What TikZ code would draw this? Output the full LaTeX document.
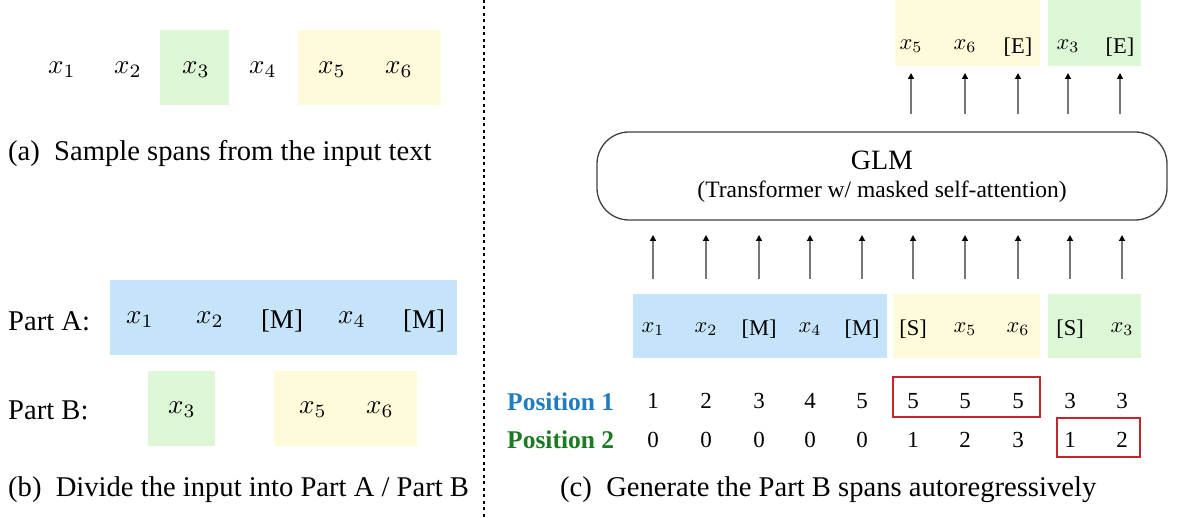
\documentclass[tikz,border=0pt]{standalone}
\usepackage{fontspec}
\setmainfont{Liberation Serif}
\usetikzlibrary{arrows.meta}
\definecolor{ablue}{HTML}{C6E4F9}
\definecolor{agreen}{HTML}{DDF7D6}
\definecolor{ayellow}{HTML}{FDFBDA}
\definecolor{pblue}{HTML}{1E7CC0}
\definecolor{pgreen}{HTML}{1B7A22}
\definecolor{rbox}{HTML}{C4262B}
\definecolor{shaft}{HTML}{777777}
\begin{document}
\begin{tikzpicture}[x=1pt,y=-1pt,
  captxt/.style={font=\fontsize{28.6}{32}\selectfont, anchor=west, inner sep=0pt},
  ltok/.style={font=\fontsize{10}{12}\selectfont, scale=2.7, inner sep=0pt},
  rtok/.style={font=\fontsize{10}{12}\selectfont, scale=2.25, inner sep=0pt},
  num/.style={font=\fontsize{23}{26}\selectfont, inner sep=0pt},
  arr/.style={draw=shaft, line width=1.4pt, -{Triangle[length=6pt,width=6pt,black]}},
  redbox/.style={draw=rbox, line width=1.3pt},
]
\useasboundingbox (0,0) rectangle (1177,518);

% ---------- (a) ----------
\fill[agreen] (160,30) rectangle (229,105);
\fill[ayellow] (298,30) rectangle (441,105);
\foreach \n/\x in {1/62,2/128,3/196,4/263,5/332,6/399}
  \node[ltok] (a\n) at (\x,70) {$x_{\n}$};
\node[captxt] (capa) at (8,153) {(a)~~Sample spans from the input text};

% ---------- (b) ----------
\fill[ablue] (110,280) rectangle (457,355);
\fill[agreen] (148,371) rectangle (215,446);
\fill[ayellow] (274,371) rectangle (417,446);
\node[captxt] (parta) at (8,321) {Part A:};
\node[captxt] (partb) at (8,410) {Part B:};
\node[ltok] (pa1) at (140,320) {$x_1$};
\node[ltok] (pa2) at (210,320) {$x_2$};
\node[ltok] (pa3) at (282,321) {[M]};
\node[ltok] (pa4) at (352,320) {$x_4$};
\node[ltok] (pa5) at (424,321) {[M]};
\node[ltok] (pb3) at (182,410) {$x_3$};
\node[ltok] (pb5) at (313,410) {$x_5$};
\node[ltok] (pb6) at (380,410) {$x_6$};
\node[captxt] (capb) at (8,490) {(b)~~Divide the input into Part A / Part B};

% ---------- divider ----------
\coordinate (dtop) at (484,0);
\coordinate (dbot) at (484,518);
\draw[line width=2pt, dash pattern=on 3pt off 3.5pt] (dtop) -- (dbot);

% ---------- (c) ----------
\fill[ayellow] (895,0) rectangle (1040,66);
\fill[agreen] (1048,0) rectangle (1141,66);
\node[rtok] (o1) at (911,46) {$x_5$};
\node[rtok] (o2) at (965,46) {$x_6$};
\node[rtok] (o3) at (1018,47) {[E]};
\node[rtok] (o4) at (1068,46) {$x_3$};
\node[rtok] (o5) at (1120,47) {[E]};

\node[draw=black!75, line width=1.3pt, rounded corners=32pt, minimum width=570pt, minimum height=88pt, inner sep=0pt] (glm) at (882,176) {};
\node[font=\fontsize{28}{32}\selectfont, inner sep=0pt] (glmt) at (882,160) {GLM};
\node[font=\fontsize{23.5}{28}\selectfont, inner sep=0pt] (glms) at (882,192) {(Transformer w/ masked self-attention)};

\foreach \i/\x in {1/911,2/965,3/1018,4/1068,5/1120}{
  \coordinate (us\i) at (\x,114);
  \coordinate (ue\i) at (\x,73);
  \draw[arr] (us\i) -- (ue\i);
}

\fill[ablue] (633,294) rectangle (887,358);
\fill[ayellow] (893,294) rectangle (1040,358);
\fill[agreen] (1048,294) rectangle (1141,358);

\foreach \i/\x/\t/\p/\q in {1/653/$x_1$/1/0, 2/706/$x_2$/2/0, 3/759/[M]/3/0, 4/810/$x_4$/4/0, 5/862/[M]/5/0, 6/913/[S]/5/1, 7/965/$x_5$/5/2, 8/1018/$x_6$/5/3, 9/1070/[S]/3/1, 10/1122/$x_3$/3/2}{
  \node[rtok] (b\i) at (\x,329) {\t};
  \node[num] (p\i) at (\x,401) {\p};
  \node[num] (q\i) at (\x,440) {\q};
  \coordinate (ds\i) at (\x,279);
  \coordinate (de\i) at (\x,235);
  \draw[arr] (ds\i) -- (de\i);
}

\node[font=\bfseries\fontsize{25.5}{28}\selectfont, text=pblue, anchor=west, inner sep=0pt] (pos1) at (507,402) {Position 1};
\node[font=\bfseries\fontsize{25.5}{28}\selectfont, text=pgreen, anchor=west, inner sep=0pt] (pos2) at (507,440) {Position 2};

\draw[redbox] (893,377) rectangle (1040,417);
\draw[redbox] (1057,418) rectangle (1140,457);

\node[captxt] (capc) at (560,490) {(c)~~Generate the Part B spans autoregressively};
\end{tikzpicture}
\end{document}
